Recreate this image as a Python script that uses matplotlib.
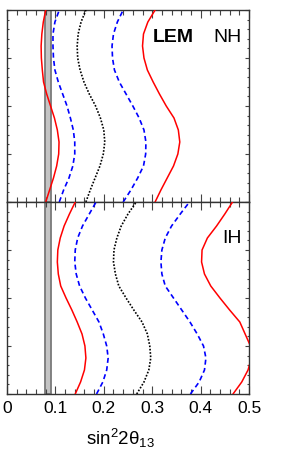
import numpy as np
import matplotlib
matplotlib.use("Agg")
import matplotlib.pyplot as plt
from matplotlib.ticker import MultipleLocator

plt.rcParams['font.family'] = ['Liberation Sans', 'DejaVu Sans']
plt.rcParams['mathtext.fontset'] = 'custom'
plt.rcParams['mathtext.rm'] = 'Liberation Sans'
plt.rcParams['mathtext.it'] = 'Liberation Sans'

# delta_CP / pi grid (bottom -> top)
delta = [-1.0, -0.875, -0.75, -0.625, -0.5, -0.375, -0.25, -0.125, 0.0,
         0.125, 0.25, 0.375, 0.5, 0.625, 0.75, 0.875, 1.0]

# Normal hierarchy contours (sin^2 2theta13)
nh_red_left = [0.080, 0.088, 0.096, 0.1026, 0.1068, 0.1075, 0.104, 0.098, 0.090,
               0.082, 0.0755, 0.073, 0.071, 0.0705, 0.072, 0.075, 0.080]
nh_blue_left = [0.108, 0.117, 0.128, 0.136, 0.140, 0.140, 0.137, 0.131, 0.124,
                0.115, 0.106, 0.099, 0.096, 0.095, 0.095, 0.099, 0.108]
nh_black = [0.163, 0.172, 0.182, 0.192, 0.199, 0.202, 0.200, 0.193, 0.183,
            0.170, 0.159, 0.151, 0.146, 0.145, 0.147, 0.153, 0.163]
nh_blue_right = [0.240, 0.256, 0.270, 0.282, 0.2865, 0.287, 0.283, 0.273, 0.260,
                 0.246, 0.232, 0.222, 0.218, 0.217, 0.220, 0.228, 0.240]
nh_red_right = [0.306, 0.318, 0.331, 0.344, 0.353, 0.357, 0.354, 0.345, 0.329,
                0.315, 0.302, 0.290, 0.283, 0.280, 0.282, 0.291, 0.306]

# Inverted hierarchy contours
ih_red_left = [0.141, 0.152, 0.160, 0.163, 0.161, 0.155, 0.145, 0.134, 0.122,
               0.111, 0.106, 0.104, 0.105, 0.110, 0.118, 0.129, 0.141]
ih_blue_left = [0.185, 0.198, 0.206, 0.209, 0.206, 0.199, 0.190, 0.176, 0.162,
                0.150, 0.143, 0.140, 0.141, 0.146, 0.156, 0.170, 0.184]
ih_black = [0.268, 0.283, 0.293, 0.297, 0.295, 0.290, 0.279, 0.262, 0.246,
            0.231, 0.224, 0.220, 0.221, 0.227, 0.236, 0.250, 0.267]
ih_blue_right = [0.379, 0.397, 0.408, 0.411, 0.406, 0.393, 0.378, 0.361, 0.344,
                 0.327, 0.320, 0.318, 0.320, 0.327, 0.340, 0.358, 0.377]
ih_red_right = [0.467, 0.485, 0.498, 0.505, 0.503, 0.492, 0.481, 0.460, 0.440,
                0.421, 0.408, 0.402, 0.403, 0.414, 0.433, 0.450, 0.466]

band = [0.0785, 0.0915]
xticks = [0, 0.1, 0.2, 0.3, 0.4, 0.5]
xticklabels = ['0', '0.1', '0.2', '0.3', '0.4', '0.5']

fig = plt.figure(figsize=(2.82, 4.52), dpi=100)
L, W = 7 / 282, 242 / 282
ax1 = fig.add_axes([L, 1 - 203 / 452, W, 192 / 452])
ax2 = fig.add_axes([L, 1 - 395 / 452, W, 192 / 452])

sets = [
    (ax1, [nh_red_left, nh_blue_left, nh_black, nh_blue_right, nh_red_right]),
    (ax2, [ih_red_left, ih_blue_left, ih_black, ih_blue_right, ih_red_right]),
]
styles = [
    dict(color='#ff0000', lw=1.1, ls='-'),
    dict(color='#0000ff', lw=1.2, ls=(0, (3.0, 2.0))),
    dict(color='black', lw=1.2, ls=(0, (1.0, 1.0))),
    dict(color='#0000ff', lw=1.2, ls=(0, (3.0, 2.0))),
    dict(color='#ff0000', lw=1.1, ls='-'),
]

for ax, curves in sets:
    ax.axvspan(band[0], band[1], facecolor='#c4c4c4', edgecolor='#7a7a7a', lw=1.3, zorder=1)
    for c, st in zip(curves, styles):
        ax.plot(c, delta, zorder=3, **st)
    ax.set_xlim(0, 0.5)
    ax.set_ylim(-1, 1)
    ax.xaxis.set_major_locator(MultipleLocator(0.1))
    ax.xaxis.set_minor_locator(MultipleLocator(0.02))
    ax.yaxis.set_major_locator(MultipleLocator(0.5))
    ax.yaxis.set_minor_locator(MultipleLocator(0.1))
    ax.tick_params(axis='x', which='both', direction='in', top=True, bottom=True,
                   color='#444444', width=0.8)
    ax.tick_params(axis='x', which='major', length=5.5)
    ax.tick_params(axis='x', which='minor', length=3.5)
    ax.tick_params(axis='y', which='both', direction='in', left=True, right=True,
                   color='#444444', width=0.8, labelleft=False)
    ax.tick_params(axis='y', which='major', length=3.0)
    ax.tick_params(axis='y', which='minor', length=1.7)
    for sp in ax.spines.values():
        sp.set_color('#333333')
        sp.set_linewidth(1.0)

ax1.tick_params(axis='x', labelbottom=False)
ax2.set_xticks(xticks)
ax2.set_xticklabels(xticklabels)
ax2.tick_params(axis='x', which='major', labelsize=12.5, pad=4)
ax2.set_xlabel(r'sin$^2$2$\theta_{13}$', fontsize=13.5)
ax2.xaxis.set_label_coords(0.468, -0.165)

ax1.text(0.302, 0.72, 'LEM', fontsize=14, fontweight='bold', ha='left', va='center')
ax1.text(0.4855, 0.72, 'NH', fontsize=14, ha='right', va='center')
ax2.text(0.4855, 0.635, 'IH', fontsize=14, ha='right', va='center')

fig.savefig('out.png', dpi=100)
